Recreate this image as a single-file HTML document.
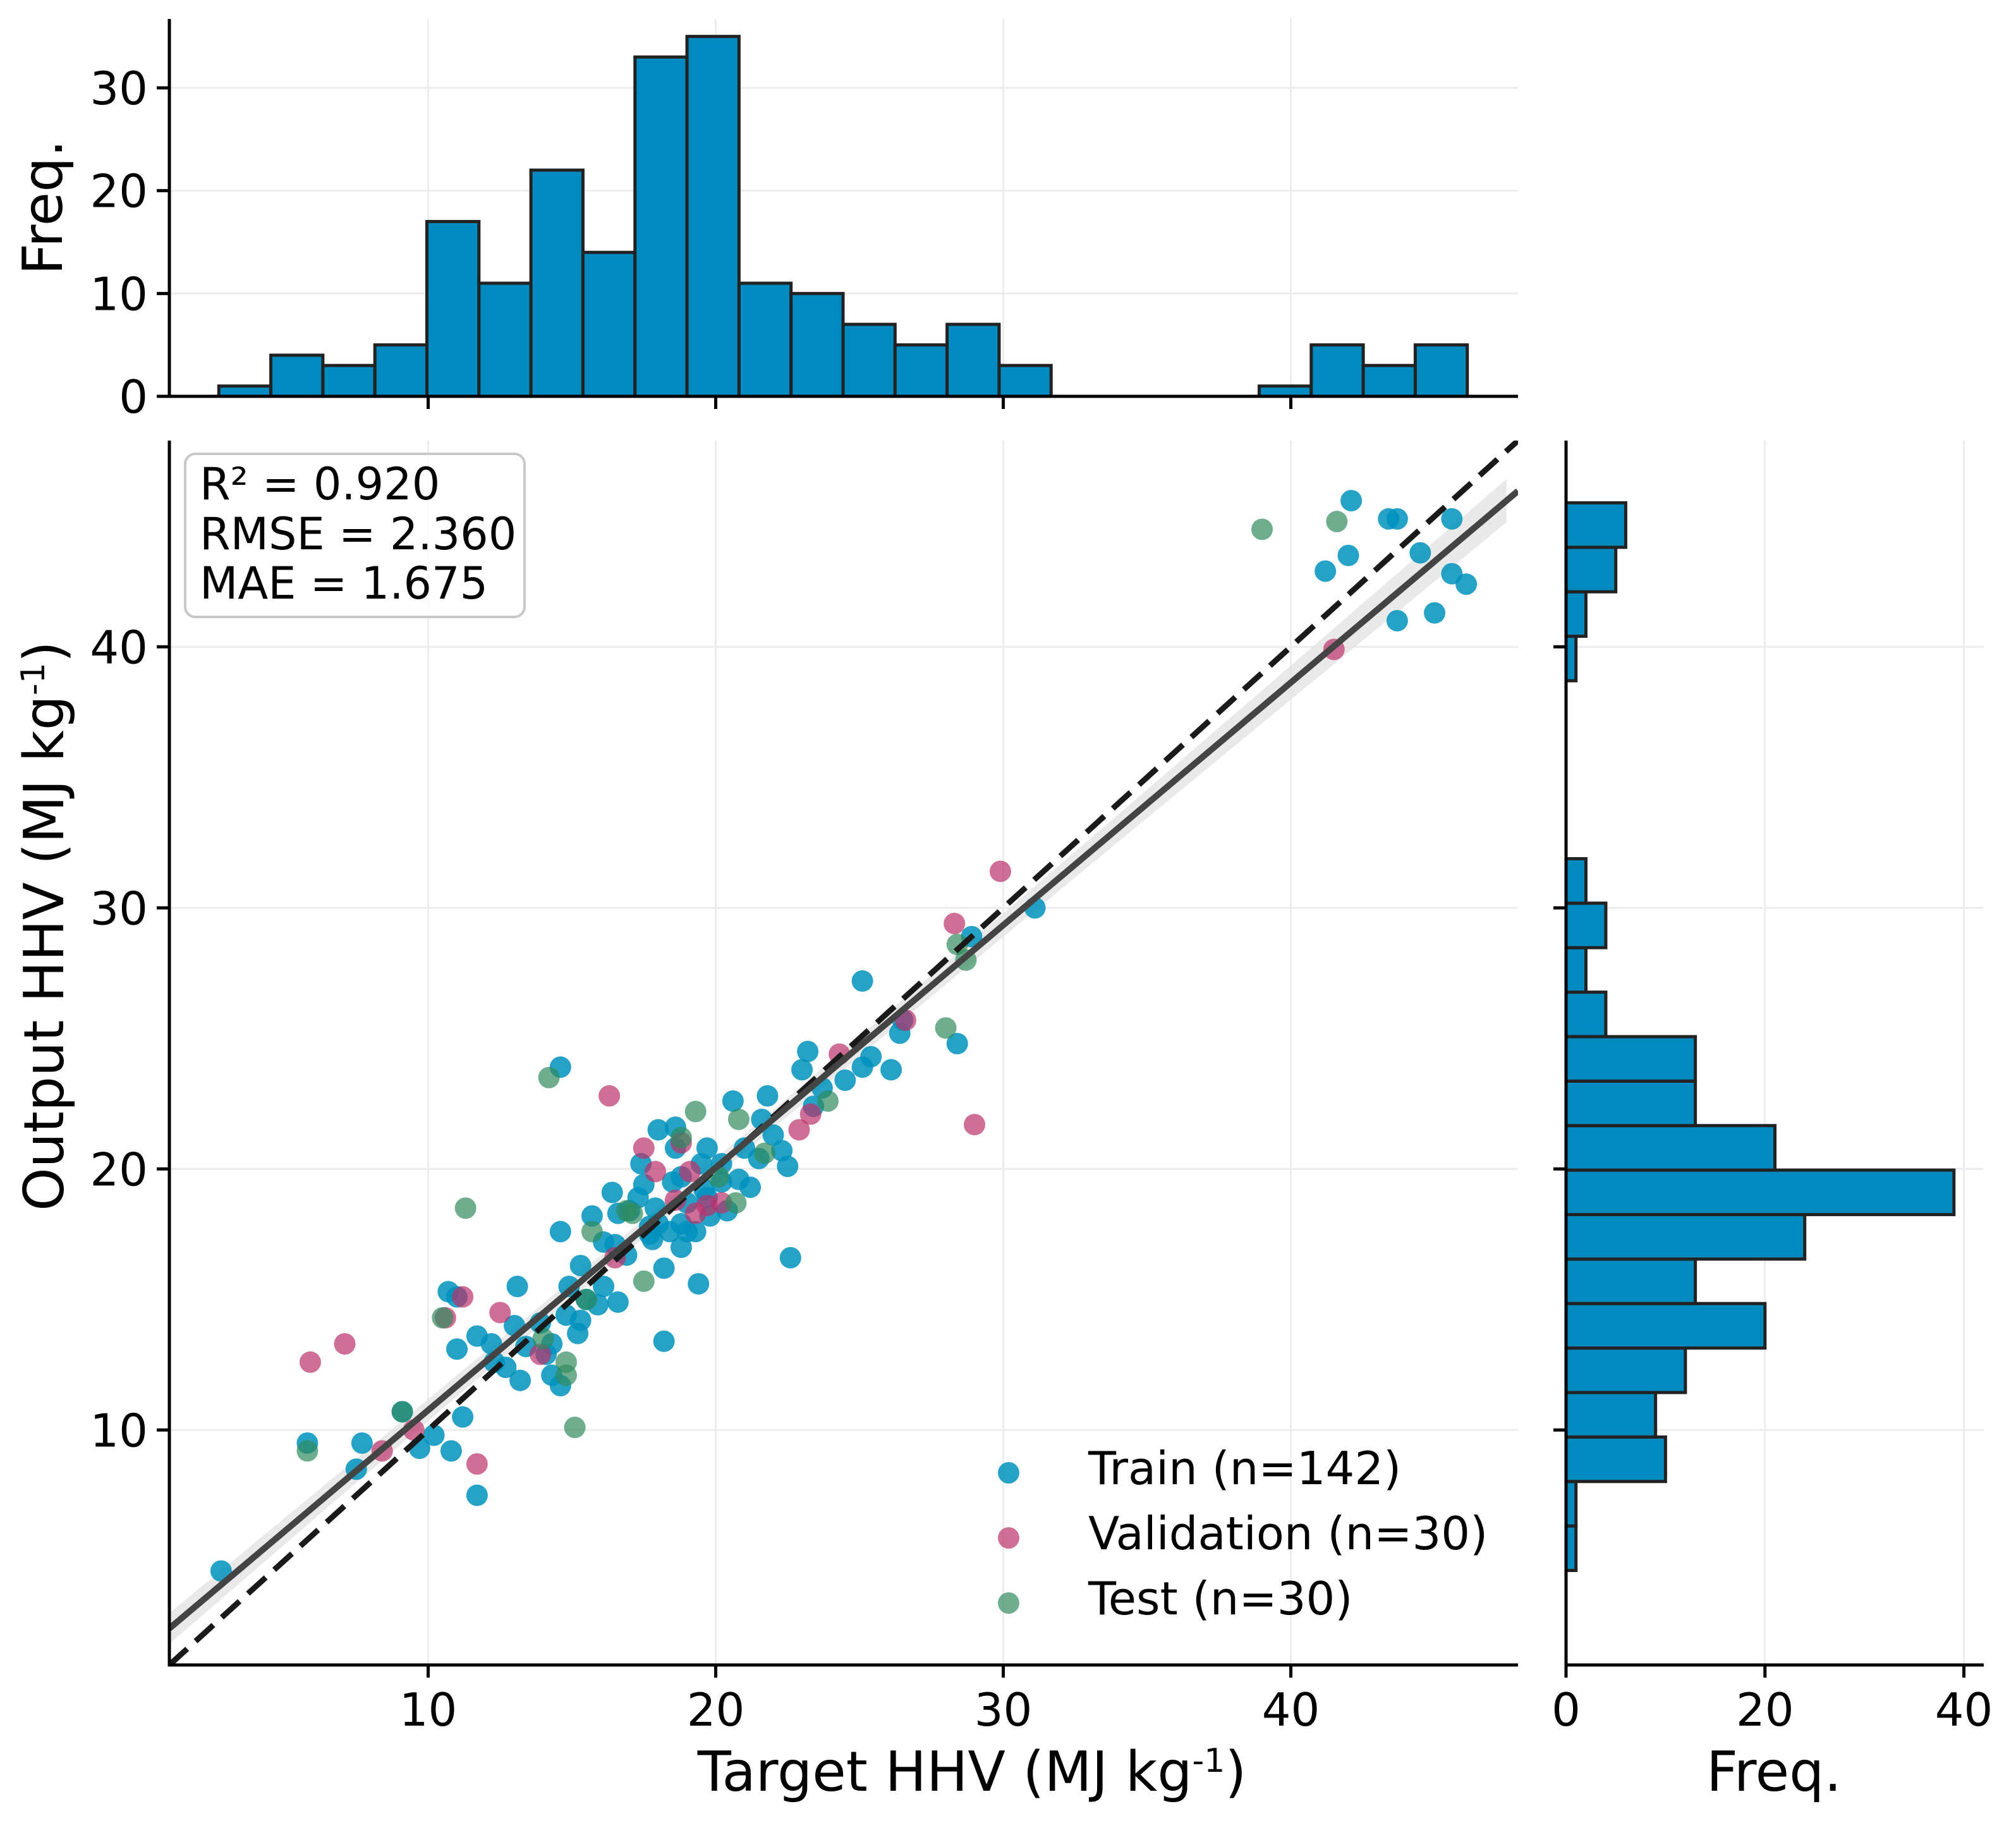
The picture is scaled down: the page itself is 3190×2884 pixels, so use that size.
<!DOCTYPE html>
<html><head><meta charset="utf-8"><style>
html,body{margin:0;padding:0;background:#fff}
svg{display:block;font-family:"DejaVu Sans","Liberation Sans",sans-serif}
</style></head><body>
<svg id="fig" xmlns="http://www.w3.org/2000/svg" width="3190" height="2884" viewBox="0 0 3190 2884">
<rect width="3190" height="2884" fill="#fff"/>
<g id="grid"></g>
<g id="band"></g>
<g id="bars"></g>
<g id="pts"></g>
<g id="lines"></g>
<g id="axes"></g>
<g id="stat-box">
<rect x="293" y="718" width="537" height="258" rx="16" fill="#fff" fill-opacity="0.85" stroke="#c8c8c8" stroke-width="4"/>
<text x="316" y="790" font-size="70">R² = 0.920</text>
<text x="316" y="869" font-size="70">RMSE = 2.360</text>
<text x="316" y="947" font-size="70">MAE = 1.675</text>
</g>
<g id="legend"></g>
<text x="1538" y="2833" font-size="87" text-anchor="middle">Target HHV  (MJ kg<tspan dy="-30" font-size="52">-1</tspan><tspan dy="30">)</tspan></text>
<text x="2807" y="2833" font-size="87" text-anchor="middle">Freq.</text>
<text transform="translate(100,1465) rotate(-90)" font-size="87" text-anchor="middle">Output HHV (MJ kg<tspan dy="-30" font-size="52">-1</tspan><tspan dy="30">)</tspan></text>
<text transform="translate(98,328) rotate(-90)" font-size="87" text-anchor="middle">Freq.</text>
</svg>
<script>
// ---- data ----
const trainX=[2.8,5.8,7.5,7.7,9.1,9.7,10.2,10.8,10.7,11.0,11.0,11.2,11.7,11.7,12.2,12.7,13.1,13.2,13.4,13.9,14.1,14.3,14.6,14.6,14.6,14.9,15.2,15.3,15.3,15.7,15.9,16.1,16.4,16.6,16.9,17.0,17.4,17.5,17.7,17.9,18.0,18.2,18.2,18.4,18.6,18.6,18.8,19.0,19.3,19.4,19.7,19.7,19.8,20.2,20.4,20.6,20.8,21.0,21.2,21.6,21.8,22.0,22.3,22.5,22.6,23.0,23.2,23.4,23.7,24.5,25.1,25.1,25.4,26.1,26.4,26.5,28.4,28.9,31.1,41.2,42.0,42.1,43.4,43.7,43.7,44.5,45.0,45.6,45.6,46.1,16.1,16.5,17.3,17.7,18.8,19.5,18.5,20.2,21.5,19.6,19.0,15.5,14.8,14.3,12.3,13.0,17.8,16.6,18.0,18.8];
const trainY=[4.6,9.5,8.5,9.5,10.7,9.3,9.8,9.2,15.3,15.1,13.1,10.5,7.5,13.6,13.3,12.4,15.5,11.9,13.2,14.1,12.9,12.1,17.6,11.7,23.9,15.5,13.7,16.3,14.2,18.2,14.8,17.2,19.1,14.9,16.7,18.4,20.2,19.4,17.8,18.5,21.5,16.2,13.4,17.6,20.8,21.6,17.9,18.7,17.6,15.6,18.9,20.8,18.2,20.2,18.4,22.6,19.6,20.8,19.3,21.9,22.8,21.3,20.7,20.1,16.6,23.8,24.5,22.4,23.1,23.4,23.9,27.2,24.3,23.8,25.2,25.7,24.8,28.9,30.0,42.9,43.5,45.6,44.9,44.9,41.0,43.6,41.3,44.9,42.8,42.4,15.5,17.1,18.9,17.5,19.7,20.2,19.5,19.5,20.4,19.2,17.6,15.0,14.4,13.3,12.6,14.0,17.3,18.3,17.9,17.0];
const valX=[5.9,7.1,8.4,9.5,10.6,11.7,12.5,16.3,17.5,17.9,18.6,18.8,19.1,19.7,20.2,22.9,23.3,24.3,26.6,28.3,29.0,29.9,41.5,16.5,13.9,19.3,11.2];
const valY=[12.6,13.3,9.2,10.0,14.3,8.7,14.5,22.8,20.8,19.9,18.8,21.0,19.9,18.6,18.7,21.5,22.1,24.4,25.7,29.4,21.7,31.4,39.9,16.6,12.9,18.3,15.1];
const testX=[5.8,9.1,10.5,11.3,14.2,14.0,14.8,14.8,15.1,15.7,17.1,17.5,18.8,19.3,20.7,20.8,21.7,23.9,28.0,28.4,28.7,39.0,41.6,15.5,16.9,20.1];
const testY=[9.2,10.7,14.3,18.5,23.5,13.5,12.6,12.1,10.1,17.6,18.3,15.7,21.2,22.2,18.7,21.9,20.6,22.6,25.4,28.6,28.0,44.5,44.8,15.0,18.4,19.7];
const topCounts=[1,4,3,5,17,11,22,14,33,35,11,10,7,5,7,3,0,0,0,0,1,5,3,5];
const sideCounts=[1,1,10,9,12,20,13,24,39,21,13,13,4,2,4,2,0,0,0,0,1,2,5,6];
const mainTicks=[10,20,30,40];
const topTicks=[0,10,20,30];
const sideTicks=[0,20,40];
const fitSlope=0.929, fitIntercept=1.47;

// ---- scales ----
const NS="http://www.w3.org/2000/svg";
const L=268,R=2402,T=697,B=2634,DMIN=1.0,DMAX=47.9;
const sx=v=>L+(v-DMIN)/(DMAX-DMIN)*(R-L);
const sy=v=>B-(v-DMIN)/(DMAX-DMIN)*(B-T);
const HT=30,HB=627,HMAX=36.7;
const hy=v=>HB-v/HMAX*(HB-HT);
const SL=2478,SR=3139,SMAX=42;
const hx=v=>SL+v/SMAX*(SR-SL);
const topE0=2.72,topW=1.809, sideE0=4.62,sideW=1.704;
function mk(tag,attrs,parent){const e=document.createElementNS(NS,tag);for(const k in attrs)e.setAttribute(k,attrs[k]);document.getElementById(parent).appendChild(e);return e;}

// grid
mainTicks.forEach(t=>{
  let g=mk('line',{x1:sx(t),x2:sx(t),y1:T,y2:B,stroke:'#ececec','stroke-width':3},'grid');
  
  
  g=mk('line',{x1:L,x2:R,y1:sy(t),y2:sy(t),stroke:'#ececec','stroke-width':3},'grid');
  
  
  g=mk('line',{x1:sx(t),x2:sx(t),y1:HT,y2:HB,stroke:'#ececec','stroke-width':3},'grid');
  
  
  g=mk('line',{x1:SL,x2:SR,y1:sy(t),y2:sy(t),stroke:'#ececec','stroke-width':3},'grid');
  
  
});
topTicks.slice(1).forEach(t=>{
  const g=mk('line',{x1:L,x2:R,y1:hy(t),y2:hy(t),stroke:'#ececec','stroke-width':3},'grid');
  
  
});
sideTicks.slice(1).forEach(t=>{
  const g=mk('line',{x1:hx(t),x2:hx(t),y1:T,y2:B,stroke:'#ececec','stroke-width':3},'grid');
  
  
});

// histogram bars
topCounts.forEach((c,i)=>{
  if(!c)return;
  const x0=sx(topE0+i*topW),x1=sx(topE0+(i+1)*topW);
  const b=mk('rect',{x:x0,y:hy(c),width:x1-x0,height:HB-hy(c),fill:'#008bc0',stroke:'#222','stroke-width':5},'bars');
  
  
});
sideCounts.forEach((c,i)=>{
  if(!c)return;
  const y1=sy(sideE0+i*sideW),y0=sy(sideE0+(i+1)*sideW);
  const b=mk('rect',{x:SL,y:y0,width:hx(c)-SL,height:y1-y0,fill:'#008bc0',stroke:'#222','stroke-width':5},'bars');
  
  
});

// CI band
(function(){
  const up=[],lo=[];
  for(let x=DMIN;x<=DMAX+0.01;x+=0.5){
    const y=fitSlope*x+fitIntercept, hw=Math.sqrt(0.12+0.0007*(x-19)*(x-19));
    up.push(sx(x)+','+sy(y+hw)); lo.unshift(sx(x)+','+sy(y-hw));
  }
  const p=mk('polygon',{points:up.concat(lo).join(' '),fill:'#e3e3e3','fill-opacity':0.8},'band');
  
  
})();

// points
function pts(X,Y,col,op,name){
  X.forEach((x,i)=>{
    const c=mk('circle',{cx:sx(x),cy:sy(Y[i]),r:17,fill:col,'fill-opacity':op},'pts');
    
    
  });
}
pts(trainX,trainY,'#0092bd',0.85,'train-point');
pts(valX,valY,'#ba3069',0.7,'validation-point');
pts(testX,testY,'#318b5e',0.7,'test-point');

// lines (clip to axes)
(function(){
  const cp=mk('clipPath',{id:'clipMain'},'lines');
  mk('rect',{x:L,y:T,width:R-L,height:B-T},'clipMain');
  let l=mk('line',{x1:sx(DMIN),y1:sy(DMIN),x2:sx(DMAX),y2:sy(DMAX),stroke:'#1a1a1a','stroke-width':9,'stroke-dasharray':'38 18','clip-path':'url(#clipMain)'},'lines');
  
  
  l=mk('line',{x1:sx(DMIN),y1:sy(fitSlope*DMIN+fitIntercept),x2:sx(DMAX),y2:sy(fitSlope*DMAX+fitIntercept),stroke:'#444','stroke-width':10,'clip-path':'url(#clipMain)'},'lines');
  
  
})();

// axes
function ln(x1,y1,x2,y2,name){const l=mk('line',{x1,y1,x2,y2,stroke:'#000','stroke-width':5},'axes');
  
  }
function tx(x,y,s,anchor,name){const t=mk('text',{x,y,'font-size':72,'text-anchor':anchor},'axes');t.textContent=s;
  
  }
ln(L,T,L,B+2.5,'main-y-spine'); ln(L-2.5,B,R,B,'main-x-spine');
ln(L,HT,L,HB+2.5,'top-hist-y-spine'); ln(L-2.5,HB,R,HB,'top-hist-x-spine');
ln(SL,T,SL,B+2.5,'side-hist-y-spine'); ln(SL-2.5,B,SR,B,'side-hist-x-spine');
mainTicks.forEach(t=>{
  ln(sx(t),B,sx(t),B+20,'main-x-tick'); tx(sx(t),B+96,String(t),'middle','main-x-tick-label');
  ln(L-20,sy(t),L,sy(t),'main-y-tick'); tx(L-34,sy(t)+26,String(t),'end','main-y-tick-label');
  ln(sx(t),HB,sx(t),HB+20,'top-hist-x-tick');
  ln(SL-20,sy(t),SL,sy(t),'side-hist-y-tick');
});
topTicks.forEach(t=>{ln(L-20,hy(t),L,hy(t),'top-hist-y-tick'); tx(L-34,hy(t)+26,String(t),'end','top-hist-y-tick-label');});
sideTicks.forEach(t=>{ln(hx(t),B,hx(t),B+20,'side-hist-x-tick'); tx(hx(t),B+96,String(t),'middle','side-hist-x-tick-label');});

// legend
const legNames=['Train (n=142)','Validation (n=30)','Test (n=30)'];
const legCols=[['#0092bd',0.85],['#ba3069',0.7],['#318b5e',0.7]];
legNames.forEach((n,i)=>{
  const y=2330+i*103;
  const c=mk('circle',{cx:1596,cy:y,r:17,fill:legCols[i][0],'fill-opacity':legCols[i][1]},'legend');
  
  
  const t=mk('text',{x:1722,y:y+18,'font-size':72},'legend');
  t.textContent=n;
  
  
});
</script>
</body></html>
